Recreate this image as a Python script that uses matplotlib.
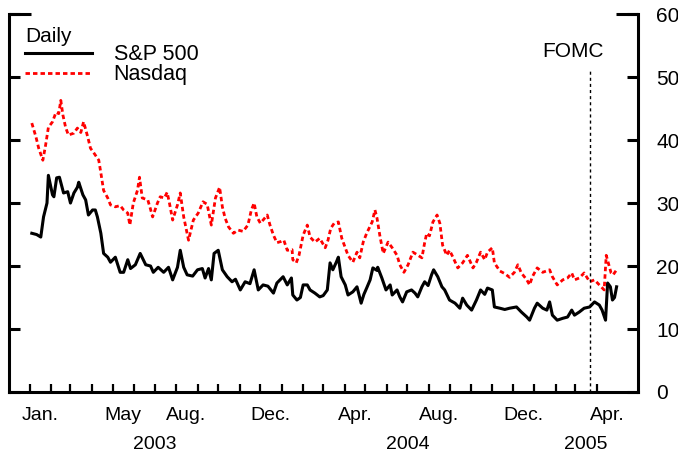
import matplotlib
matplotlib.use("Agg")
import matplotlib.pyplot as plt
import pandas as pd

plt.rcParams['font.family'] = ['Liberation Sans', 'DejaVu Sans']

# implied volatility (days after 1 Jan 2003, percent)
sp_days = [3, 10, 16, 20, 25, 27, 33, 35, 39, 43, 49, 55, 59, 64, 69, 71, 77, 81, 85, 91,
           95, 98, 103, 107, 113, 117, 124, 131, 136, 142, 146, 153, 160, 168, 175, 179,
           186, 194, 201, 207, 214, 218, 223, 228, 236, 243, 250, 254, 259, 263, 267, 273,
           279, 286, 293, 298, 305, 312, 319, 325, 331, 338, 345, 353, 358, 367, 373, 379,
           381, 387, 392, 396, 402, 406, 413, 420, 425, 431, 435, 439, 444, 447, 451, 457,
           461, 468, 474, 480, 484, 488, 493, 497, 503, 504, 510, 516, 522, 525, 532, 536,
           540, 546, 553, 558, 562, 568, 572, 577, 582, 585, 591, 597, 601, 608, 616, 623,
           627, 633, 640, 647, 653, 659, 663, 670, 673, 681, 688, 695, 705, 712, 720, 724,
           731, 735, 743, 749, 753, 757, 764, 772, 779, 785, 789, 796, 803, 811, 818, 825,
           829, 834, 837, 841, 844, 847, 850]
sp500 = [25.2, 25.0, 24.6, 27.8, 30.0, 34.4, 31.3, 31.0, 34.0, 34.1, 31.6, 31.8, 30.0, 31.6,
         32.5, 33.3, 31.3, 30.5, 28.1, 28.9, 28.9, 27.8, 25.2, 22.0, 21.4, 20.6, 21.4, 19.0,
         19.0, 21.0, 19.6, 20.2, 22.0, 20.2, 20.0, 19.0, 19.8, 19.0, 19.8, 17.8, 19.8, 22.5,
         19.8, 18.6, 18.4, 19.4, 19.6, 18.1, 19.6, 17.8, 22.0, 22.5, 19.4, 18.3, 17.5, 17.9,
         16.2, 17.5, 17.2, 19.4, 16.2, 17.0, 16.8, 15.7, 17.3, 18.3, 17.0, 18.1, 15.4, 14.6,
         15.0, 17.0, 17.0, 16.2, 15.7, 15.1, 15.3, 16.2, 20.5, 19.4, 20.6, 21.4, 18.3, 17.0,
         15.4, 15.9, 16.7, 14.1, 15.5, 16.5, 17.8, 19.7, 19.3, 19.8, 18.1, 16.2, 17.0, 15.4,
         16.2, 15.1, 14.3, 15.9, 16.2, 15.7, 15.1, 16.7, 17.5, 16.9, 18.6, 19.4, 18.3, 16.7,
         16.2, 14.6, 14.1, 13.3, 14.9, 13.8, 13.0, 14.6, 16.2, 15.5, 16.5, 16.2, 13.5, 13.3,
         13.1, 13.3, 13.5, 12.7, 11.9, 11.4, 13.3, 14.1, 13.3, 13.0, 14.3, 12.2, 11.4, 11.7,
         11.9, 13.0, 12.2, 12.7, 13.3, 13.5, 14.3, 13.8, 13.0, 11.4, 17.3, 16.7, 14.6, 15.0,
         16.7]

nq_days = [3, 9, 13, 19, 23, 27, 33, 38, 42, 45, 48, 52, 56, 64, 69, 74, 78, 84, 88, 92,
           100, 103, 107, 113, 117, 124, 131, 136, 142, 145, 150, 156, 159, 163, 171, 175,
           178, 185, 189, 195, 199, 202, 207, 214, 218, 223, 230, 237, 244, 251, 257, 263,
           269, 275, 279, 283, 288, 295, 302, 309, 316, 321, 325, 329, 334, 338, 344, 348,
           353, 358, 364, 368, 373, 380, 381, 386, 390, 396, 402, 406, 413, 420, 428, 432,
           436, 441, 447, 452, 457, 461, 468, 474, 478, 483, 488, 496, 500, 503, 507, 512,
           519, 525, 532, 536, 542, 548, 555, 561, 568, 572, 575, 579, 584, 590, 594, 598,
           604, 608, 613, 620, 627, 634, 642, 647, 653, 659, 663, 670, 673, 681, 688, 695,
           702, 707, 712, 720, 724, 728, 735, 743, 753, 757, 764, 772, 779, 785, 789, 796,
           803, 811, 818, 825, 832, 835, 838, 842, 845, 850]
nasdaq = [42.7, 40.5, 38.7, 36.8, 39.2, 42.0, 42.9, 44.4, 44.2, 46.3, 44.0, 42.0, 40.8, 41.1,
          41.9, 41.2, 42.9, 40.5, 38.7, 38.1, 36.8, 34.8, 32.0, 30.8, 29.7, 29.4, 29.6, 28.9,
          28.4, 26.5, 30.0, 32.0, 34.1, 30.8, 30.5, 29.0, 27.8, 30.0, 31.0, 30.8, 31.7, 30.2,
          27.3, 29.7, 31.6, 27.8, 24.1, 27.3, 28.4, 30.2, 29.8, 26.5, 30.8, 32.5, 29.4, 27.6,
          26.2, 25.2, 25.7, 25.5, 26.5, 28.9, 30.0, 27.8, 26.8, 27.3, 28.1, 26.5, 24.9, 23.7,
          23.9, 24.1, 22.5, 22.6, 21.0, 20.5, 21.7, 24.9, 26.5, 24.6, 23.8, 24.4, 22.9, 24.1,
          26.0, 26.8, 27.0, 24.4, 22.9, 21.7, 20.6, 22.2, 21.3, 23.8, 25.2, 27.0, 28.9, 27.6,
          24.9, 22.0, 23.8, 22.9, 21.7, 20.2, 19.0, 20.2, 22.2, 21.8, 21.3, 23.7, 25.2, 24.8,
          27.0, 28.1, 26.8, 23.3, 21.7, 22.5, 21.4, 19.7, 20.5, 21.7, 19.7, 20.6, 22.2, 21.0,
          22.2, 22.9, 20.5, 19.2, 18.8, 18.2, 19.0, 20.2, 18.9, 17.8, 17.0, 18.3, 19.7, 19.0,
          19.4, 18.3, 17.0, 17.8, 18.1, 18.9, 17.8, 18.1, 18.9, 17.5, 17.8, 17.0, 16.2, 21.7,
          20.5, 18.9, 18.6, 19.4]

month_labels = ["Jan.", "May", "Aug.", "Dec.", "Apr.", "Aug.", "Dec.", "Apr."]
month_label_dates = ["2003-01-16", "2003-05-16", "2003-08-16", "2003-12-16",
                     "2004-04-16", "2004-08-16", "2004-12-16", "2005-04-16"]
year_labels = ["2003", "2004", "2005"]
year_label_dates = ["2003-07-01", "2004-07-01", "2005-03-16"]
fomc_date = "2005-03-22"

start = pd.Timestamp("2003-01-01")
sp_dates = start + pd.to_timedelta(sp_days, unit="D")
nq_dates = start + pd.to_timedelta(nq_days, unit="D")

fig = plt.figure(figsize=(6.78, 4.55), dpi=100)
ax = fig.add_axes([0.0133, 0.1385, 0.9277, 0.8305])

ax.plot(sp_dates, sp500, color="black", lw=2.2, label="S&P 500")
ax.plot(nq_dates, nasdaq, color="#ff0000", lw=2.0, linestyle=(0, (1.6, 1.1)), label="Nasdaq")

ax.axvline(pd.Timestamp(fomc_date), ymin=0, ymax=0.852, color="black", lw=1.0,
           linestyle=(0, (2.2, 2.2)))
ax.annotate("FOMC", xy=(pd.Timestamp(fomc_date), 54), xytext=(-12, 0),
            textcoords="offset points", ha="center", va="center", fontsize=15)

ax.set_xlim(pd.Timestamp("2002-12-02"), pd.Timestamp("2005-05-31"))
ax.set_ylim(0, 60)

# spines
ax.spines["top"].set_visible(False)
for s in ["left", "right", "bottom"]:
    ax.spines[s].set_linewidth(2.2)

# y ticks: labels on the right, longer tick at the top
ax.set_yticks(range(0, 61, 10))
ax.set_yticks([60], minor=True)
ax.yaxis.remove_overlapping_locs = False
ax.tick_params(axis="y", which="major", direction="in", left=True, right=True,
               labelleft=False, labelright=True, length=8, width=2.2, pad=13,
               labelsize=15)
ax.tick_params(axis="y", which="minor", direction="in", left=True, right=True,
               labelleft=False, labelright=False, length=16, width=2.2)

# x ticks: a tick every month, labels in the middle of the months
ax.set_xticks(pd.date_range("2003-01-01", "2005-04-01", freq="MS"))
ax.set_xticklabels([])
ax.set_xticks(pd.to_datetime(month_label_dates), month_labels, minor=True)
ax.xaxis.remove_overlapping_locs = False
ax.tick_params(axis="x", which="major", direction="in", length=6, width=1.6)
ax.tick_params(axis="x", which="minor", length=0, pad=11, labelsize=14)

for d, lab in zip(year_label_dates, year_labels):
    ax.text(pd.Timestamp(d), -0.138, lab, transform=ax.get_xaxis_transform(),
            ha="center", va="center", fontsize=14)

leg = ax.legend(loc="upper left", bbox_to_anchor=(0.026, 0.967), frameon=False,
                title="Daily", title_fontsize=15, fontsize=15.5, alignment="left",
                handlelength=3.1, handletextpad=1.0, labelspacing=-0.05,
                borderpad=0, borderaxespad=0)

fig.savefig("out.png", dpi=100)
